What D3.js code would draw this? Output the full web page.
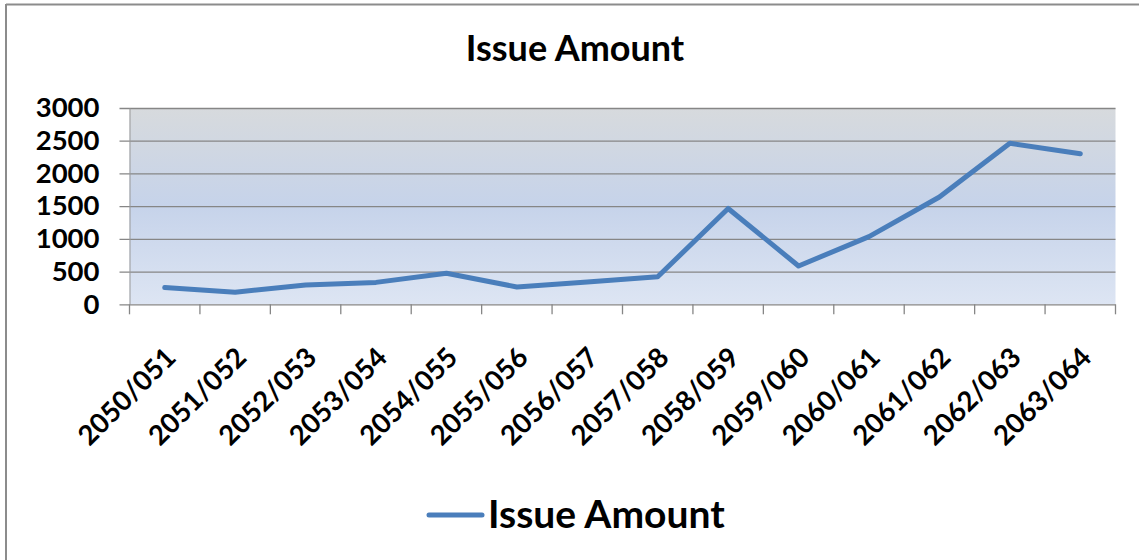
<!DOCTYPE html>
<html>
<head>
<meta charset="utf-8">
<script src="https://cdn.jsdelivr.net/npm/d3@7"></script>
<style>
  html, body { margin: 0; padding: 0; background: #ffffff; }
  svg { display: block; font-family: Lato, "Open Sans", sans-serif; }
</style>
</head>
<body>
<svg id="chart" width="1139" height="560"></svg>
<script>
// Fiscal years (Nepali calendar) and issue amounts
const categories = [
  "2050/051", "2051/052", "2052/053", "2053/054", "2054/055", "2055/056", "2056/057",
  "2057/058", "2058/059", "2059/060", "2060/061", "2061/062", "2062/063", "2063/064"
];
const issueAmount = [255, 185, 295, 335, 475, 265, 340, 420, 1465, 585, 1035, 1640, 2460, 2300];
const yTicks = [0, 500, 1000, 1500, 2000, 2500, 3000];
const seriesName = "Issue Amount";
const chartTitle = "Issue Amount";

const svg = d3.select("#chart");
const W = 1139, H = 560;
const plot = { left: 129.5, right: 1115.5, top: 108, bottom: 304.3 };

const x = d3.scaleBand().domain(categories).range([plot.left, plot.right]).paddingInner(0).paddingOuter(0);
const y = d3.scaleLinear().domain([0, 3000]).range([plot.bottom, plot.top]);

// Outer frame (top and left edges)
svg.append("line").attr("x1", 6).attr("x2", W).attr("y1", 4.5).attr("y2", 4.5)
  .attr("stroke", "#8c8c8c").attr("stroke-width", 2);
svg.append("line").attr("x1", 6).attr("x2", 6).attr("y1", 4).attr("y2", H)
  .attr("stroke", "#8c8c8c").attr("stroke-width", 2);

// Plot background gradient
const defs = svg.append("defs");
const grad = defs.append("linearGradient").attr("id", "plotBg")
  .attr("x1", 0).attr("y1", 0).attr("x2", 0).attr("y2", 1);
grad.append("stop").attr("offset", "0%").attr("stop-color", "#d7dadd");
grad.append("stop").attr("offset", "50%").attr("stop-color", "#c6d3ea");
grad.append("stop").attr("offset", "100%").attr("stop-color", "#dde5f3");

svg.append("rect")
  .attr("x", plot.left).attr("y", plot.top)
  .attr("width", plot.right - plot.left).attr("height", plot.bottom - plot.top)
  .attr("fill", "url(#plotBg)");

// Horizontal gridlines (extend a little left of the plot as outside tick marks)
const gy = svg.append("g").attr("transform", `translate(${plot.right},0)`)
  .call(d3.axisLeft(y).tickValues(yTicks).tickSize(plot.right - plot.left + 10).tickFormat(""));
gy.select(".domain").remove();
gy.selectAll(".tick line").attr("stroke", "#868686").attr("stroke-width", 1.3);

// Y axis labels
const gyl = svg.append("g").attr("transform", `translate(${plot.left},0)`)
  .call(d3.axisLeft(y).tickValues(yTicks).tickSize(0).tickPadding(30).tickFormat(d3.format("d")));
gyl.select(".domain").attr("stroke", "#9a9a9a").attr("stroke-width", 1);
gyl.selectAll(".tick text")
  .attr("font-family", "Lato, 'Open Sans', sans-serif")
  .attr("font-weight", "bold").attr("font-size", 27.5).attr("fill", "#000");

// X axis ticks at category boundaries
const bounds = categories.map(c => x(c)).concat([plot.right]);
svg.append("g").selectAll("line").data(bounds).join("line")
  .attr("x1", d => d).attr("x2", d => d)
  .attr("y1", plot.bottom).attr("y2", plot.bottom + 10)
  .attr("stroke", "#868686").attr("stroke-width", 1.3);

// Rotated category labels
svg.append("g").selectAll("text").data(categories).join("text")
  .attr("transform", d => `translate(${x(d) + x.bandwidth() / 2 + 6},${plot.bottom + 48}) rotate(-45)`)
  .attr("text-anchor", "end").attr("dy", "0.35em")
  .attr("font-weight", "bold").attr("font-size", 27.5).attr("fill", "#000")
  .text(d => d);

// Series line
const line = d3.line()
  .x((d, i) => x(categories[i]) + x.bandwidth() / 2)
  .y(d => y(d));
svg.append("path").datum(issueAmount)
  .attr("d", line)
  .attr("fill", "none").attr("stroke", "#4a7ebb").attr("stroke-width", 5)
  .attr("stroke-linejoin", "round").attr("stroke-linecap", "round");

// Title
svg.append("text").attr("x", 575).attr("y", 61)
  .attr("text-anchor", "middle").attr("font-weight", "bold").attr("font-size", 36).attr("fill", "#000")
  .text(chartTitle);

// Legend
const lg = svg.append("g");
lg.append("line").attr("x1", 429).attr("x2", 482).attr("y1", 515).attr("y2", 515)
  .attr("stroke", "#4a7ebb").attr("stroke-width", 5).attr("stroke-linecap", "round");
lg.append("text").attr("x", 488).attr("y", 528)
  .attr("font-weight", "bold").attr("font-size", 39).attr("fill", "#000")
  .text(seriesName);
</script>
</body>
</html>
